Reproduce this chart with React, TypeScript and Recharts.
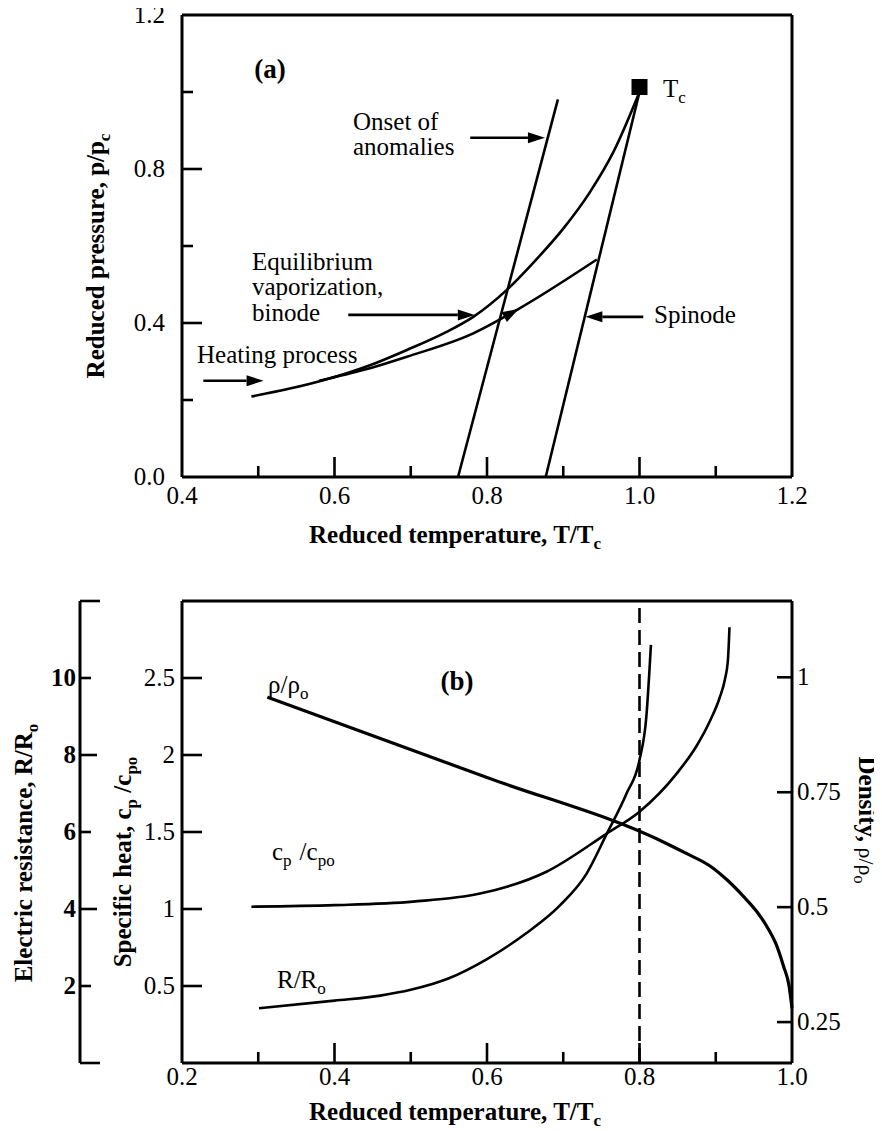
import React from 'react';
import { ComposedChart, Line, XAxis, YAxis, ReferenceLine, ReferenceDot } from 'recharts';

const FONT = 'Liberation Serif, Times New Roman, serif';

// ---- panel (a): reduced pressure vs reduced temperature ----
const binode = [
  { t: 0.491, p: 0.209 },
  { t: 0.54, p: 0.229 },
  { t: 0.59, p: 0.254 },
  { t: 0.65, p: 0.293 },
  { t: 0.695, p: 0.33 },
  { t: 0.747, p: 0.377 },
  { t: 0.782, p: 0.416 },
  { t: 0.826, p: 0.486 },
  { t: 0.86, p: 0.555 },
  { t: 0.9, p: 0.645 },
  { t: 0.935, p: 0.74 },
  { t: 0.966, p: 0.845 },
  { t: 1.0, p: 1.0 },
];
const heating = [
  { t: 0.58, p: 0.25 },
  { t: 0.64, p: 0.279 },
  { t: 0.695, p: 0.3125 },
  { t: 0.782, p: 0.373 },
  { t: 0.84, p: 0.435 },
  { t: 0.944, p: 0.565 },
];
const onset = [
  { t: 0.762, p: 0 },
  { t: 0.893, p: 0.981 },
];
const spinode = [
  { t: 0.877, p: 0 },
  { t: 1.0, p: 1.0 },
];
const critical = { t: 1.0, p: 1.013 };
// annotation arrows: tail -> tip in (T/Tc, p/pc)
const arrowsA = [
  { from: [0.778, 0.881], to: [0.876, 0.881], head: false },
  { from: [0.618, 0.421], to: [0.784, 0.421], head: false },
  { from: [0.428, 0.25], to: [0.507, 0.25], head: false },
  { from: [1.005, 0.416], to: [0.929, 0.416], head: false },
  { from: [0.8, 0.39], to: [0.842, 0.437], head: true },
];

const tempTicksA = [0.4, 0.5, 0.6, 0.7, 0.8, 0.9, 1.0, 1.1, 1.2];
const tempLabelsA = [0.4, 0.6, 0.8, 1.0, 1.2];
const pressTicks = [0, 0.2, 0.4, 0.6, 0.8, 1.0, 1.2];
const pressLabels = [0, 0.4, 0.8, 1.2];

// ---- panel (b): density, specific heat, resistance ----
const density = [
  { t: 0.312, v: 0.957 },
  { t: 0.6, v: 0.782 },
  { t: 0.836, v: 0.638 },
  { t: 0.86, v: 0.618 },
  { t: 0.893, v: 0.589 },
  { t: 0.915, v: 0.559 },
  { t: 0.936, v: 0.524 },
  { t: 0.953, v: 0.492 },
  { t: 0.967, v: 0.458 },
  { t: 0.979, v: 0.42 },
  { t: 0.989, v: 0.371 },
  { t: 0.996, v: 0.33 },
  { t: 1.0, v: 0.28 },
];
const specificHeat = [
  { t: 0.291, v: 1.015 },
  { t: 0.4, v: 1.025 },
  { t: 0.503, v: 1.048 },
  { t: 0.591, v: 1.1 },
  { t: 0.678, v: 1.242 },
  { t: 0.757, v: 1.49 },
  { t: 0.8, v: 1.632 },
  { t: 0.849, v: 1.881 },
  { t: 0.875, v: 2.06 },
  { t: 0.893, v: 2.227 },
  { t: 0.905, v: 2.37 },
  { t: 0.912, v: 2.49 },
  { t: 0.916, v: 2.62 },
  { t: 0.918, v: 2.83 },
];
const resistance = [
  { t: 0.301, v: 1.42 },
  { t: 0.4, v: 1.62 },
  { t: 0.46, v: 1.75 },
  { t: 0.5, v: 1.9 },
  { t: 0.55, v: 2.2 },
  { t: 0.6, v: 2.7 },
  { t: 0.65, v: 3.35 },
  { t: 0.696, v: 4.1 },
  { t: 0.73, v: 4.9 },
  { t: 0.757, v: 5.95 },
  { t: 0.783, v: 7.0 },
  { t: 0.8, v: 7.87 },
  { t: 0.809, v: 9.0 },
  { t: 0.815, v: 10.86 },
];
const anomalyT = 0.8;

const tempTicksB = [0.2, 0.3, 0.4, 0.5, 0.6, 0.7, 0.8, 0.9, 1.0];
const tempLabelsB = [0.2, 0.4, 0.6, 0.8, 1.0];
const cpTicks = [0.5, 1, 1.5, 2, 2.5];
const resTicks = [0, 2, 4, 6, 8, 10, 12];
const resLabels = [2, 4, 6, 8, 10];
const rhoTicks = [0.25, 0.5, 0.75, 1];

const near = (v: number, list: number[]) => list.some((b) => Math.abs(v - b) < 1e-6);

type Side = 'bottom' | 'top' | 'left' | 'right';

function makeTick(
  side: Side,
  lenOf: (v: number) => number,
  labelOf: ((v: number) => string | null) | null,
  gap = 8,
  bold = false
) {
  return (props: any) => {
    const { x, y, payload } = props;
    const v = payload.value;
    const len = lenOf(v);
    const lab = labelOf ? labelOf(v) : null;
    const ls = { stroke: '#000', strokeWidth: 2.6 };
    const ts = { fontFamily: FONT, fontSize: 25, fill: '#000', fontWeight: bold ? 700 : 400 };
    let line = null;
    let text = null;
    if (side === 'bottom') {
      if (len) line = <line x1={x} x2={x} y1={y} y2={y - len} {...ls} />;
      if (lab) text = <text x={x} y={y + gap} textAnchor="middle" style={ts}>{lab}</text>;
    } else if (side === 'top') {
      if (len) line = <line x1={x} x2={x} y1={y} y2={y + len} {...ls} />;
    } else if (side === 'left') {
      if (len) line = <line x1={x} x2={x + len} y1={y} y2={y} {...ls} />;
      if (lab) text = <text x={x - gap} y={y + 8} textAnchor="end" style={ts}>{lab}</text>;
    } else {
      if (len) line = <line x1={x} x2={x - len} y1={y} y2={y} {...ls} />;
      if (lab) text = <text x={x + gap} y={y + 8} textAnchor="start" style={ts}>{lab}</text>;
    }
    return (
      <g>
        {line}
        {text}
      </g>
    );
  };
}

const arrowShape = (headOnly: boolean) => (props: any) => {
  const { x1, y1, x2, y2 } = props;
  const dx = x2 - x1;
  const dy = y2 - y1;
  const d = Math.hypot(dx, dy) || 1;
  const ux = dx / d;
  const uy = dy / d;
  const L = 17;
  const W = 5.5;
  const bx = x2 - ux * L;
  const by = y2 - uy * L;
  const pts = `${x2},${y2} ${bx - uy * W},${by + ux * W} ${bx + uy * W},${by - ux * W}`;
  return (
    <g>
      {!headOnly && <line x1={x1} y1={y1} x2={bx} y2={by} stroke="#000" strokeWidth={2.6} />}
      <polygon points={pts} fill="#000" />
    </g>
  );
};

const frame = { stroke: '#000', strokeWidth: 3 };
const curve = { stroke: '#000', strokeWidth: 2.6, dot: false, activeDot: false, isAnimationActive: false };

function PanelA() {
  const lenX = (v: number) => (near(v, [0.4, 1.2]) ? 0 : near(v, [0.6, 0.8, 1.0]) ? 20 : 11);
  const lenY = (v: number) => (near(v, [0, 1.2]) ? 0 : near(v, [0.4, 0.8]) ? 20 : 11);
  return (
    <ComposedChart width={866} height={568} margin={{ top: 12, right: 80, bottom: 31, left: 0 }}>
      <XAxis
        xAxisId="b"
        type="number"
        dataKey="t"
        domain={[0.4, 1.2]}
        ticks={tempTicksA}
        interval={0}
        height={60}
        tickSize={0}
        tickMargin={0}
        axisLine={frame}
        tickLine={false}
        tick={makeTick('bottom', lenX, (v) => (near(v, tempLabelsA) ? v.toFixed(1) : null), 27)}
      />
      <XAxis
        xAxisId="top"
        orientation="top"
        type="number"
        dataKey="t"
        domain={[0.4, 1.2]}
        ticks={tempTicksA}
        interval={0}
        height={3}
        tickSize={0}
        tickMargin={0}
        axisLine={frame}
        tickLine={false}
        tick={makeTick('top', lenX, null)}
      />
      <YAxis
        yAxisId="l"
        type="number"
        domain={[0, 1.2]}
        ticks={pressTicks}
        interval={0}
        width={174}
        tickSize={0}
        tickMargin={0}
        axisLine={frame}
        tickLine={false}
        tick={makeTick('left', lenY, (v) => (near(v, pressLabels) ? v.toFixed(1) : null), 17)}
      />
      <YAxis
        yAxisId="r"
        orientation="right"
        type="number"
        domain={[0, 1.2]}
        ticks={pressTicks}
        interval={0}
        width={2}
        tickSize={0}
        tickMargin={0}
        axisLine={frame}
        tickLine={false}
        tick={makeTick('right', lenY, null)}
      />
      <Line xAxisId="b" yAxisId="l" data={binode} dataKey="p" type="monotone" {...curve} />
      <Line xAxisId="b" yAxisId="l" data={heating} dataKey="p" type="monotone" {...curve} />
      <Line xAxisId="b" yAxisId="l" data={onset} dataKey="p" type="linear" {...curve} />
      <Line xAxisId="b" yAxisId="l" data={spinode} dataKey="p" type="linear" {...curve} />
      {arrowsA.map((a, i) => (
        <ReferenceLine
          key={i}
          xAxisId="b"
          yAxisId="l"
          segment={[
            { x: a.from[0], y: a.from[1] },
            { x: a.to[0], y: a.to[1] },
          ]}
          shape={arrowShape(a.head)}
        />
      ))}
      <ReferenceDot
        xAxisId="b"
        yAxisId="l"
        x={critical.t}
        y={critical.p}
        r={8}
        shape={(p: any) => <rect x={p.cx - 8} y={p.cy - 8} width={16} height={16} fill="#000" />}
      />
    </ComposedChart>
  );
}

function PanelB() {
  const lenX = (v: number) => (near(v, [0.2, 1.0]) ? 0 : near(v, [0.4, 0.6, 0.8]) ? 20 : 11);
  const lenR = (v: number) => (near(v, [0, 12]) ? 20 : near(v, [4, 8]) ? 17 : 11);
  return (
    <ComposedChart width={866} height={563} margin={{ top: 30, right: 0, bottom: 8, left: 0 }}>
      <XAxis
        xAxisId="b"
        type="number"
        dataKey="t"
        domain={[0.2, 1.0]}
        ticks={tempTicksB}
        interval={0}
        height={60}
        tickSize={0}
        tickMargin={0}
        axisLine={frame}
        tickLine={false}
        tick={makeTick('bottom', lenX, (v) => (near(v, tempLabelsB) ? v.toFixed(1) : null), 22)}
      />
      <XAxis
        xAxisId="top"
        orientation="top"
        type="number"
        dataKey="t"
        domain={[0.2, 1.0]}
        ticks={tempTicksB}
        interval={0}
        height={3}
        tickSize={0}
        tickMargin={0}
        axisLine={frame}
        tickLine={false}
        tick={makeTick('top', lenX, null)}
      />
      <YAxis
        yAxisId="cp"
        type="number"
        domain={[0, 3]}
        ticks={cpTicks}
        interval={0}
        width={102}
        tickSize={0}
        tickMargin={0}
        axisLine={frame}
        tickLine={false}
        tick={makeTick('left', () => 20, (v) => String(v), 7)}
      />
      <YAxis
        yAxisId="res"
        type="number"
        domain={[0, 12]}
        ticks={resTicks}
        interval={0}
        width={72}
        tickSize={0}
        tickMargin={0}
        axisLine={frame}
        tickLine={false}
        tick={makeTick('left', lenR, (v) => (near(v, resLabels) ? String(v) : null), 4, true)}
      />
      <YAxis
        yAxisId="rho"
        orientation="right"
        type="number"
        domain={[0.161, 1.166]}
        ticks={rhoTicks}
        interval={0}
        width={82}
        tickSize={0}
        tickMargin={0}
        axisLine={frame}
        tickLine={false}
        tick={makeTick('right', () => 15, (v) => String(v), 5)}
      />
      <ReferenceLine
        xAxisId="b"
        yAxisId="cp"
        x={anomalyT}
        stroke="#000"
        strokeWidth={2.6}
        strokeDasharray="15 7"
      />
      <Line xAxisId="b" yAxisId="rho" data={density} dataKey="v" type="monotone" {...curve} strokeWidth={3.2} />
      <Line xAxisId="b" yAxisId="cp" data={specificHeat} dataKey="v" type="monotone" {...curve} />
      <Line xAxisId="b" yAxisId="res" data={resistance} dataKey="v" type="monotone" {...curve} />
    </ComposedChart>
  );
}

const sub = (s: string, size = 17) => (
  <tspan dy={6} style={{ fontSize: size }}>
    {s}
  </tspan>
);

function Texts() {
  const t = { fontFamily: FONT, fontSize: 25, fill: '#000' };
  const b = { ...t, fontWeight: 700 };
  // overlay coordinates are page coordinates minus the 8px body margin
  const o = (v: number) => v - 8;
  return (
    <svg
      width={866}
      height={1123}
      style={{ position: 'absolute', left: 0, top: 0, pointerEvents: 'none', overflow: 'visible' }}
    >
      {/* panel (a) */}
      <text x={o(270)} y={o(78)} textAnchor="middle" style={{ ...b, fontSize: 27 }}>(a)</text>
      <text x={o(353)} y={o(130)} style={t}>Onset of</text>
      <text x={o(353)} y={o(155)} style={t}>anomalies</text>
      <text x={o(252)} y={o(270)} style={t}>Equilibrium</text>
      <text x={o(252)} y={o(295)} style={t}>vaporization,</text>
      <text x={o(252)} y={o(321)} style={t}>binode</text>
      <text x={o(197)} y={o(363)} style={t}>Heating process</text>
      <text x={o(654)} y={o(323)} style={t}>Spinode</text>
      <text x={o(663)} y={o(97)} style={t}>
        T{sub('c')}
      </text>
      <text x={o(455)} y={o(543)} textAnchor="middle" style={b}>
        Reduced temperature, T/T{sub('c')}
      </text>
      <text transform={`translate(${o(104)},${o(256)}) rotate(-90)`} textAnchor="middle" style={b}>
        Reduced pressure, p/p{sub('c')}
      </text>

      {/* panel (b) */}
      <text x={o(457)} y={o(690)} textAnchor="middle" style={{ ...b, fontSize: 27 }}>(b)</text>
      <text x={o(268)} y={o(693)} style={t}>
        ρ/ρ{sub('o')}
      </text>
      <text x={o(272)} y={o(860)} style={t}>
        c{sub('p')}
        <tspan dy={-6} dx={8}>/c</tspan>
        {sub('po')}
      </text>
      <text x={o(277)} y={o(988)} style={t}>
        R/R{sub('o')}
      </text>
      <text x={o(455)} y={o(1120)} textAnchor="middle" style={b}>
        Reduced temperature, T/T{sub('c')}
      </text>
      <text transform={`translate(${o(32)},${o(853)}) rotate(-90)`} textAnchor="middle" style={b}>
        Electric resistance, R/R{sub('o')}
      </text>
      <text transform={`translate(${o(131)},${o(862)}) rotate(-90)`} textAnchor="middle" style={b}>
        Specific heat, c{sub('p')}
        <tspan dy={-6}> /c</tspan>
        {sub('po')}
      </text>
      <text transform={`translate(${o(859)},${o(820)}) rotate(90)`} textAnchor="middle" style={b}>
        Density,
        <tspan style={{ fontWeight: 400, fontSize: 22 }}> ρ/ρ</tspan>
        <tspan dy={5} style={{ fontWeight: 400, fontSize: 16 }}>o</tspan>
      </text>
    </svg>
  );
}

export default function App() {
  return (
    <div style={{ position: 'relative', width: 866, height: 1123, fontFamily: FONT, background: '#fff' }}>
      <div style={{ position: 'absolute', left: 0, top: -8 }}>
        <PanelA />
      </div>
      <div style={{ position: 'absolute', left: 0, top: 560 }}>
        <PanelB />
      </div>
      <Texts />
    </div>
  );
}
